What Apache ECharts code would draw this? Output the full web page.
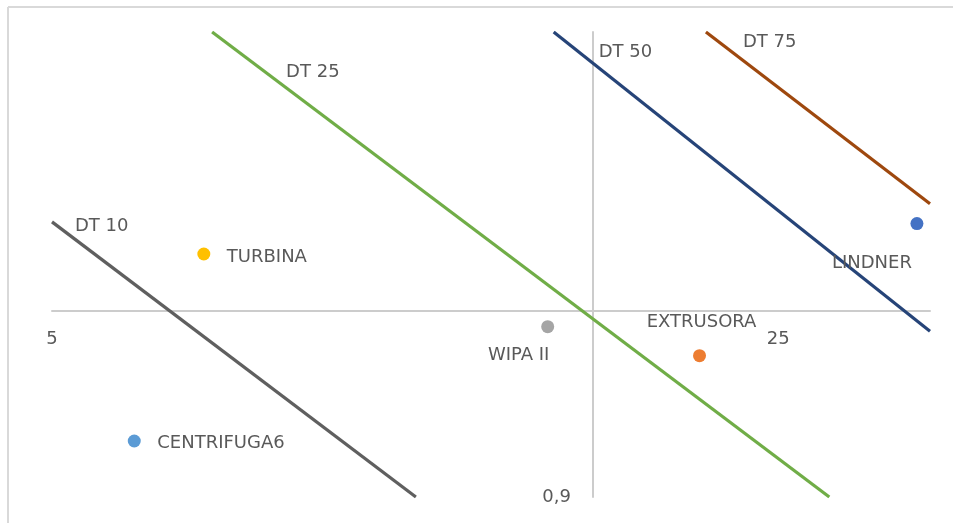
<!DOCTYPE html>
<html>
<head>
<meta charset="utf-8">
<script src="https://cdn.jsdelivr.net/npm/echarts@6/dist/echarts.min.js"></script>
<style>
html,body{margin:0;padding:0;background:#fff;}
#chart{width:953px;height:523px;}
</style>
</head>
<body>
<div id="chart"></div>
<script>
// ---- data ----
const xTicks = [5, 25];
const xTickLabels = ['5', '25'];
const yTicks = [0.9];
const yTickLabels = ['0,9'];
const xRange = [5, 35];
const yRange = [0.9, 3.5];

const pointNames = ['TURBINA', 'CENTRIFUGA6', 'WIPA II', 'EXTRUSORA', 'LINDNER'];
const pointX = [7.0, 6.0, 15.0, 21.0, 34.0];
const pointY = [1.83, 1.06, 1.48, 1.36, 2.0];

const dtNames = ['DT 10', 'DT 25', 'DT 50', 'DT 75'];
const dtStartX = [5, 7.13, 15.2, 21.3];
const dtStartY = [2.01, 3.5, 3.5, 3.5];
const dtEndX = [11.2, 28.0, 35, 35];
const dtEndY = [0.9, 0.9, 1.46, 2.12];

// ---- styles ----
const pointColors = ['#FFC000', '#5B9BD5', '#A5A5A5', '#ED7D31', '#4472C4'];
const pointLabelStyle = {
  'TURBINA': {align: 'left', dx: 23, dy: 3},
  'CENTRIFUGA6': {align: 'left', dx: 23, dy: 2.5},
  'WIPA II': {align: 'center', dx: -29, dy: 29},
  'EXTRUSORA': {align: 'center', dx: 2, dy: -33.5},
  'LINDNER': {align: 'right', dx: -5, dy: 40}
};
const dtColors = ['#5F5F5F', '#70AD47', '#264478', '#9E480E'];
const dtLabelOffset = [[23, 4], [74, 40.5], [45, 20.5], [37, 10.5]];

const FONT = 'DejaVu Sans';
const TXT = '#595959';
const FS = 18;

const series = [];
dtNames.forEach((n, i) => {
  series.push({
    name: n,
    type: 'line',
    data: [
      {value: [dtStartX[i], dtStartY[i]], label: {
        show: true, formatter: n, position: 'inside', align: 'left', verticalAlign: 'middle',
        offset: dtLabelOffset[i], color: TXT, fontFamily: FONT, fontSize: FS
      }},
      {value: [dtEndX[i], dtEndY[i]]}
    ],
    symbol: 'circle',
    symbolSize: 1,
    showSymbol: true,
    itemStyle: {color: 'rgba(0,0,0,0)'},
    lineStyle: {color: dtColors[i], width: 3.2},
    silent: true,
    z: 2
  });
});

series.push({
  name: 'points',
  type: 'scatter',
  symbolSize: 13,
  z: 3,
  itemStyle: {opacity: 1},
  data: pointNames.map((n, i) => ({
    name: n,
    value: [pointX[i], pointY[i]],
    itemStyle: {color: pointColors[i], opacity: 1},
    label: {
      show: true, formatter: n, position: 'inside',
      align: pointLabelStyle[n].align, verticalAlign: 'middle',
      offset: [pointLabelStyle[n].dx, pointLabelStyle[n].dy],
      color: TXT, opacity: 1, fontFamily: FONT, fontSize: FS
    }
  }))
});

function near(a, b) { return Math.abs(a - b) < 1e-6 * Math.max(1, Math.abs(b)); }

const chart = echarts.init(document.getElementById('chart'), null, {renderer: 'canvas'});
chart.setOption({
  animation: false,
  backgroundColor: '#fff',
  grid: {left: 52, right: 23, top: 32, bottom: 26, containLabel: false},
  xAxis: {
    type: 'log', logBase: 5, min: xRange[0], max: xRange[1],
    offset: -186,
    axisLine: {show: true, lineStyle: {color: '#CCCCCC', width: 2}},
    axisTick: {show: false},
    splitLine: {show: false},
    axisLabel: {
      color: TXT, fontFamily: FONT, fontSize: FS, margin: 19,
      showMaxLabel: false,
      formatter: v => { const k = xTicks.findIndex(t => near(v, t)); return k >= 0 ? xTickLabels[k] : ''; }
    }
  },
  yAxis: {
    type: 'log', logBase: 10, min: yRange[0], max: yRange[1],
    offset: -541,
    axisLine: {show: true, lineStyle: {color: '#CCCCCC', width: 2}},
    axisTick: {show: false},
    splitLine: {show: false},
    axisLabel: {
      color: TXT, fontFamily: FONT, fontSize: FS, margin: 22,
      showMinLabel: true,
      formatter: v => { const k = yTicks.findIndex(t => near(v, t)); return k >= 0 ? yTickLabels[k] : ''; }
    }
  },
  graphic: [
    {type: 'line', shape: {x1: 8, y1: 7, x2: 953, y2: 7}, style: {stroke: '#D9D9D9', lineWidth: 2}},
    {type: 'line', shape: {x1: 8, y1: 7, x2: 8, y2: 523}, style: {stroke: '#D9D9D9', lineWidth: 2}}
  ],
  series: series
});
</script>
</body>
</html>
